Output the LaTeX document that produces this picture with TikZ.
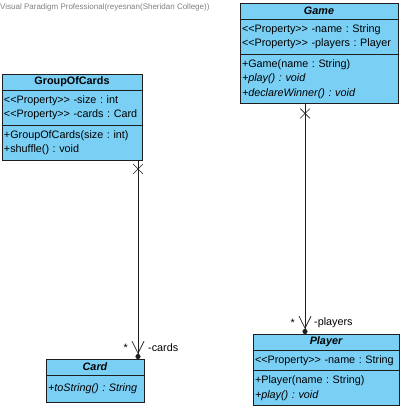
\documentclass[tikz,border=0pt]{standalone}
\usepackage{fontspec}
\setmainfont{Liberation Sans}
\usetikzlibrary{arrows.meta, positioning, shapes.misc}
\definecolor{classblue}{RGB}{122, 207, 245}
\definecolor{umlline}{RGB}{30, 30, 30}
\definecolor{notegray}{RGB}{128, 128, 128}
\newcommand{\propst}{<\kern0pt<Property>\kern0pt>}
\frenchspacing
\tikzset{
    classname/.style={
        rectangle, draw=umlline, fill=classblue, line width=0.7pt,
        inner xsep=2pt, inner ysep=0pt, outer sep=0pt,
        minimum height=16pt, align=center, anchor=north west,
        font=\fontsize{10.8}{14.5}\selectfont\bfseries
    },
    compart/.style={
        rectangle, draw=umlline, fill=classblue, line width=0.7pt,
        inner xsep=2pt, inner ysep=3pt, outer sep=0pt,
        align=left, font=\fontsize{10.8}{14.5}\selectfont
    },
    assoc/.style={-{Straight Barb[length=12pt, width=12pt] Circle[length=5pt]}, line width=0.7pt, color=umlline},
    endx/.style={cross out, draw=umlline, line width=0.7pt, minimum size=9pt, inner sep=0pt},
    role/.style={font=\fontsize{10.8}{13}\selectfont, inner sep=0pt},
}

\begin{document}
\begin{tikzpicture}[x=1pt, y=-1pt]
    \useasboundingbox (0,0) rectangle (403,411);
    \node[anchor=west, font=\fontsize{8}{9}\selectfont, text=notegray, inner sep=0pt] (vpnote) at (0,7) {Visual Paradigm Professional(reyesnan(Sheridan College))};

    % GroupOfCards
    \node[classname, text width=136pt] (goc) at (2,74) {GroupOfCards};
    \node[compart, text width=136pt, minimum height=35pt, below=0pt of goc] (gocattr) {\propst{} -size : int\\\propst{} -cards : Card};
    \node[compart, text width=136pt, minimum height=35pt, below=0pt of gocattr] (gocops) {+GroupOfCards(size : int)\\+shuffle() : void};

    % Game
    \node[classname, text width=154pt] (game) at (240,3) {\itshape Game};
    \node[compart, text width=154pt, minimum height=35pt, below=0pt of game] (gameattr) {\propst{} -name : String\\\propst{} -players : Player};
    \node[compart, text width=154pt, minimum height=49.5pt, below=0pt of gameattr] (gameops) {+Game(name : String)\\\textit{+play() : void}\\\textit{+declareWinner() : void}};

    % Card
    \node[classname, text width=94pt] (card) at (46,359) {\itshape Card};
    \node[compart, text width=94pt, minimum height=27pt, below=0pt of card] (cardops) {\textit{+toString() : String}};

    % Player
    \node[classname, text width=142pt] (player) at (253,334) {\itshape Player};
    \node[compart, text width=142pt, minimum height=20.5pt, below=0pt of player] (playerattr) {\propst{} -name : String};
    \node[compart, text width=142pt, minimum height=35pt, below=0pt of playerattr] (playerops) {+Player(name : String)\\\textit{+play() : void}};

    % associations
    \coordinate (gocfoot) at ([xshift=-4pt]gocops.south east);
    \coordinate (cardend) at (gocfoot |- card.north);
    \node[endx] (gocx) at ([yshift=-9pt]gocfoot) {};
    \draw[assoc] (gocfoot) -- (cardend);
    \node[role, anchor=west] (cardsrole) at ([xshift=10pt, yshift=11pt]cardend) {-cards};
    \node[role, anchor=east] (cardsmult) at ([xshift=-10pt, yshift=11pt]cardend) {*};

    \coordinate (gamefoot) at ([xshift=65pt]gameops.south west);
    \coordinate (playerend) at (gamefoot |- player.north);
    \node[endx] (gamex) at ([yshift=-10pt]gamefoot) {};
    \draw[assoc] (gamefoot) -- (playerend);
    \node[role, anchor=west] (playersrole) at ([xshift=9pt, yshift=11pt]playerend) {-players};
    \node[role, anchor=east] (playersmult) at ([xshift=-10pt, yshift=11pt]playerend) {*};
\end{tikzpicture}
\end{document}
